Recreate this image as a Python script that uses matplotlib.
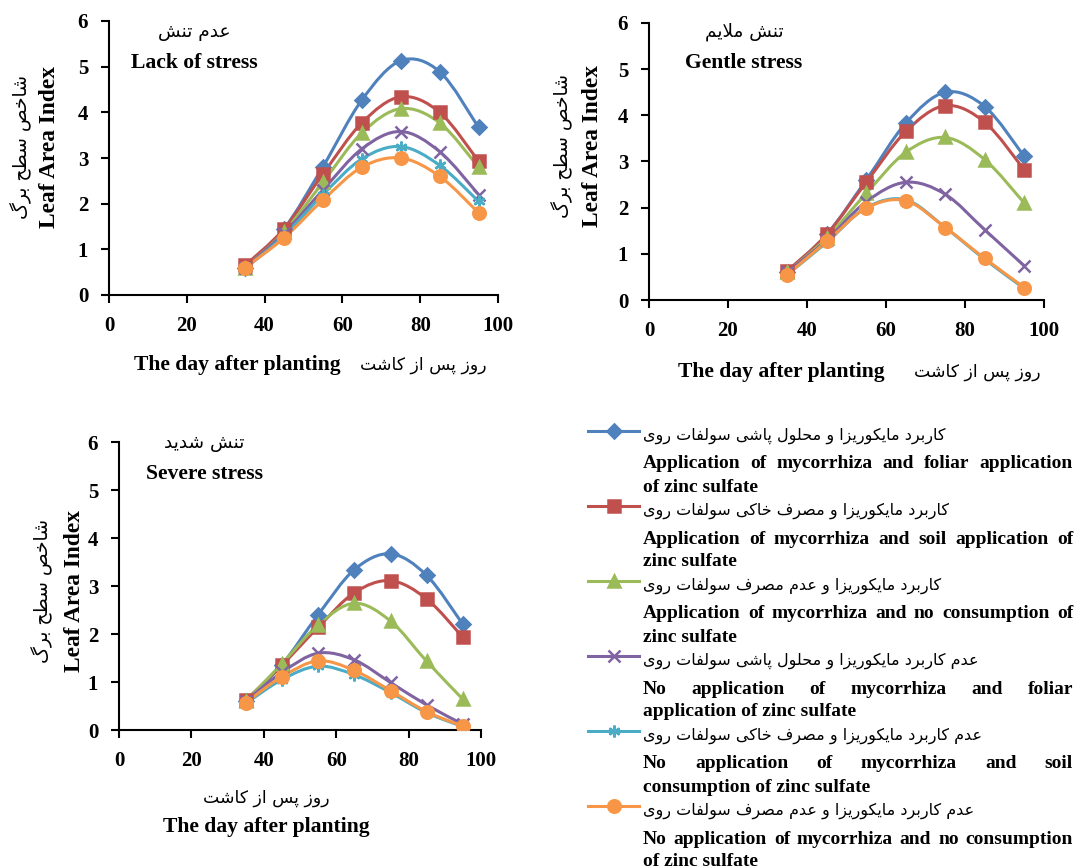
import numpy as np
import matplotlib
matplotlib.use('Agg')
import matplotlib.pyplot as plt
from matplotlib.path import Path
from matplotlib.patches import PathPatch

# days after planting
days = [35, 45, 55, 65, 75, 85, 95]

# leaf area index, no stress
lack_stress = [
    [0.60, 1.45, 2.81, 4.27, 5.13, 4.89, 3.67],
    [0.65, 1.45, 2.65, 3.77, 4.34, 4.00, 2.93],
    [0.60, 1.38, 2.47, 3.55, 4.08, 3.77, 2.80],
    [0.60, 1.35, 2.30, 3.20, 3.58, 3.14, 2.20],
    [0.58, 1.30, 2.20, 2.98, 3.25, 2.84, 2.05],
    [0.60, 1.25, 2.08, 2.80, 3.00, 2.60, 1.80],
]
# gentle stress
gentle_stress = [
    [0.61, 1.42, 2.60, 3.83, 4.50, 4.19, 3.11],
    [0.63, 1.42, 2.55, 3.65, 4.21, 3.85, 2.82],
    [0.60, 1.35, 2.31, 3.20, 3.52, 3.04, 2.10],
    [0.60, 1.30, 2.13, 2.55, 2.29, 1.52, 0.74],
    [0.55, 1.25, 2.00, 2.17, 1.57, 0.88, 0.25],
    [0.55, 1.27, 1.99, 2.15, 1.57, 0.90, 0.27],
]
# severe stress
severe_stress = [
    [0.60, 1.36, 2.40, 3.34, 3.67, 3.22, 2.20],
    [0.62, 1.35, 2.14, 2.86, 3.11, 2.73, 1.93],
    [0.60, 1.38, 2.19, 2.64, 2.27, 1.43, 0.64],
    [0.60, 1.20, 1.60, 1.46, 0.99, 0.52, 0.12],
    [0.55, 1.05, 1.33, 1.15, 0.78, 0.36, 0.07],
    [0.57, 1.11, 1.44, 1.24, 0.82, 0.38, 0.08],
]

panel_fa = ['عدم تنش', 'تنش ملایم', 'تنش شدید']
panel_en = ['Lack of stress', 'Gentle stress', 'Severe stress']
ylabel_fa = 'شاخص سطح برگ'
ylabel_en = 'Leaf Area Index'
xlabel_fa = 'روز پس از کاشت'
xlabel_en = 'The day after planting'

legend_fa = [
    'کاربرد مایکوریزا و محلول پاشی سولفات روی',
    'کاربرد مایکوریزا و مصرف خاکی سولفات روی',
    'کاربرد مایکوریزا و عدم مصرف سولفات روی',
    'عدم کاربرد مایکوریزا و محلول پاشی سولفات روی',
    'عدم کاربرد مایکوریزا و مصرف خاکی سولفات روی',
    'عدم کاربرد مایکوریزا و عدم مصرف سولفات روی',
]
legend_en = [
    ['Application of mycorrhiza and foliar application', 'of zinc sulfate'],
    ['Application of mycorrhiza and soil application of', 'zinc sulfate'],
    ['Application of mycorrhiza and no consumption of', 'zinc sulfate'],
    ['No application of mycorrhiza and foliar', 'application of zinc sulfate'],
    ['No application of mycorrhiza and soil', 'consumption of zinc sulfate'],
    ['No application of mycorrhiza and no consumption', 'of zinc sulfate'],
]

colors = ['#4F81BD', '#C0504D', '#9BBB59', '#8064A2', '#4BACC6', '#F79646']
markers = ['D', 's', '^', 'x', (6, 2, 0), 'o']
msizes = [7.5, 8, 8.5, 8.5, 8.5, 9]

SERIF = 'Liberation Serif'
FA_FONT = 'DejaVu Sans'

# simple persian shaping (isolated, final, initial, medial)
FORMS = {
    'ا': ('\uFE8D', '\uFE8E', None, None),
    'ب': ('\uFE8F', '\uFE90', '\uFE91', '\uFE92'),
    'پ': ('\uFB56', '\uFB57', '\uFB58', '\uFB59'),
    'ت': ('\uFE95', '\uFE96', '\uFE97', '\uFE98'),
    'ح': ('\uFEA1', '\uFEA2', '\uFEA3', '\uFEA4'),
    'خ': ('\uFEA5', '\uFEA6', '\uFEA7', '\uFEA8'),
    'د': ('\uFEA9', '\uFEAA', None, None),
    'ر': ('\uFEAD', '\uFEAE', None, None),
    'ز': ('\uFEAF', '\uFEB0', None, None),
    'س': ('\uFEB1', '\uFEB2', '\uFEB3', '\uFEB4'),
    'ش': ('\uFEB5', '\uFEB6', '\uFEB7', '\uFEB8'),
    'ص': ('\uFEB9', '\uFEBA', '\uFEBB', '\uFEBC'),
    'ط': ('\uFEC1', '\uFEC2', '\uFEC3', '\uFEC4'),
    'ع': ('\uFEC9', '\uFECA', '\uFECB', '\uFECC'),
    'ف': ('\uFED1', '\uFED2', '\uFED3', '\uFED4'),
    'ل': ('\uFEDD', '\uFEDE', '\uFEDF', '\uFEE0'),
    'م': ('\uFEE1', '\uFEE2', '\uFEE3', '\uFEE4'),
    'ن': ('\uFEE5', '\uFEE6', '\uFEE7', '\uFEE8'),
    'و': ('\uFEED', '\uFEEE', None, None),
    'ی': ('\uFBFC', '\uFBFD', '\uFBFE', '\uFBFF'),
    'ک': ('\uFB8E', '\uFB8F', '\uFB90', '\uFB91'),
    'گ': ('\uFB92', '\uFB93', '\uFB94', '\uFB95'),
    '\uFEFB': ('\uFEFB', '\uFEFC', None, None),
}


def fa(text):
    chars = list(text.replace('لا', '\uFEFB'))
    out = []
    for i, c in enumerate(chars):
        if c not in FORMS:
            out.append(c)
            continue
        prev = chars[i - 1] if i > 0 else ''
        nxt = chars[i + 1] if i + 1 < len(chars) else ''
        jp = prev in FORMS and FORMS[prev][2] is not None
        jn = nxt in FORMS and FORMS[c][2] is not None
        iso, fin, ini, med = FORMS[c]
        if jp and jn:
            out.append(med)
        elif jp:
            out.append(fin)
        elif jn:
            out.append(ini)
        else:
            out.append(iso)
    return ''.join(out)[::-1]


# excel style smooth line as bezier path
def smooth_path(x, y):
    pts = np.column_stack([x, y]).astype(float)
    n = len(pts)
    verts = [pts[0]]
    codes = [Path.MOVETO]
    for i in range(n - 1):
        p0 = pts[max(i - 1, 0)]
        p1 = pts[i]
        p2 = pts[i + 1]
        p3 = pts[min(i + 2, n - 1)]
        verts += [p1 + (p2 - p0) / 6, p2 - (p3 - p1) / 6, p2]
        codes += [Path.CURVE4] * 3
    return Path(verts, codes)


fig = plt.figure(figsize=(10.76, 8.68), dpi=100)
W, H = 1076, 868

# axes rectangles in pixels: left, top, right, bottom
rects = [(109, 21, 498, 295), (649, 23, 1044, 300), (119, 442, 481, 730)]
panels = [lack_stress, gentle_stress, severe_stress]

for (l, t, r, b), data in zip(rects, panels):
    ax = fig.add_axes([l / W, 1 - b / H, (r - l) / W, (b - t) / H])
    ax.set_facecolor('none')
    for k in range(6):
        ax.add_patch(PathPatch(smooth_path(days, data[k]), fill=False,
                               edgecolor=colors[k], lw=2.2, zorder=2))
    for k in range(6):
        ax.plot(days, data[k], linestyle='none', marker=markers[k], ms=msizes[k],
                color=colors[k], mec=colors[k], mew=1.8, zorder=3)
    ax.set_xlim(0, 100)
    ax.set_ylim(0, 6)
    ax.set_xticks(range(0, 101, 20))
    ax.set_yticks(range(0, 7))
    for s in ['top', 'right']:
        ax.spines[s].set_visible(False)
    for s in ['left', 'bottom']:
        ax.spines[s].set_linewidth(1.5)
    ax.tick_params(direction='out', length=6, width=1.5, pad=9, labelsize=15)
    for lab in ax.get_xticklabels() + ax.get_yticklabels():
        lab.set_fontfamily(SERIF)
        lab.set_fontweight('bold')

# overlay axes in pixel coords for texts and legend
ov = fig.add_axes([0, 0, 1, 1])
ov.set_xlim(0, W)
ov.set_ylim(H, 0)
ov.axis('off')

en = dict(family=SERIF, weight='bold', fontsize=15.6, va='center')
fa_kw = dict(family=FA_FONT, fontsize=12.4, va='center')

# panel titles
for (cx, y1, y2), tf, te in zip([(194, 32, 63), (744, 32, 63), (204, 443, 474)],
                                 panel_fa, panel_en):
    ov.text(cx, y1, fa(tf), ha='center', **dict(fa_kw, fontsize=13.3))
    ov.text(cx, y2, te, ha='center', **en)

# y labels
for xe, xf, yc in [(50, 21, 147), (592, 562, 146), (74, 42, 591)]:
    ov.text(xe, yc, ylabel_en, ha='center', rotation=90, **dict(en, fontsize=16.8))
    ov.text(xf, yc, fa(ylabel_fa), ha='center', rotation=90,
            **dict(fa_kw, fontsize=13.5))

# x labels
ov.text(237, 365, xlabel_en, ha='center', **en)
ov.text(423, 365, fa(xlabel_fa), ha='center', **fa_kw)
ov.text(781, 372, xlabel_en, ha='center', **en)
ov.text(977, 372, fa(xlabel_fa), ha='center', **fa_kw)
ov.text(266, 798, fa(xlabel_fa), ha='center', **fa_kw)
ov.text(266, 827, xlabel_en, ha='center', **en)

# legend
renderer = fig.canvas.get_renderer()
lx0, lx1, tx0, tx1 = 588, 639, 643, 1073
leg_en = dict(family=SERIF, weight='bold', fontsize=14, va='center')
leg_fa = dict(family=FA_FONT, fontsize=11.5, va='center')


def justify(line, y):
    words = line.split(' ')
    arts = [ov.text(0, y, w, ha='left', **leg_en) for w in words]
    widths = [a.get_window_extent(renderer).width for a in arts]
    gap = (tx1 - tx0 - sum(widths)) / (len(words) - 1)
    x = tx0
    for a, w in zip(arts, widths):
        a.set_x(x)
        x += w + gap


for k in range(6):
    yh = 431 + 75 * k
    ov.plot([lx0, lx1], [yh, yh], color=colors[k], lw=2.2)
    ov.plot([(lx0 + lx1) / 2], [yh], marker=markers[k], ms=msizes[k],
            color=colors[k], mec=colors[k], mew=1.8)
    ov.text(tx0, yh + 5, fa(legend_fa[k]), ha='left', **leg_fa)
    justify(legend_en[k][0], yh + 33)
    ov.text(tx0, yh + 56, legend_en[k][1], ha='left', **leg_en)

fig.savefig('out.png', dpi=100)
